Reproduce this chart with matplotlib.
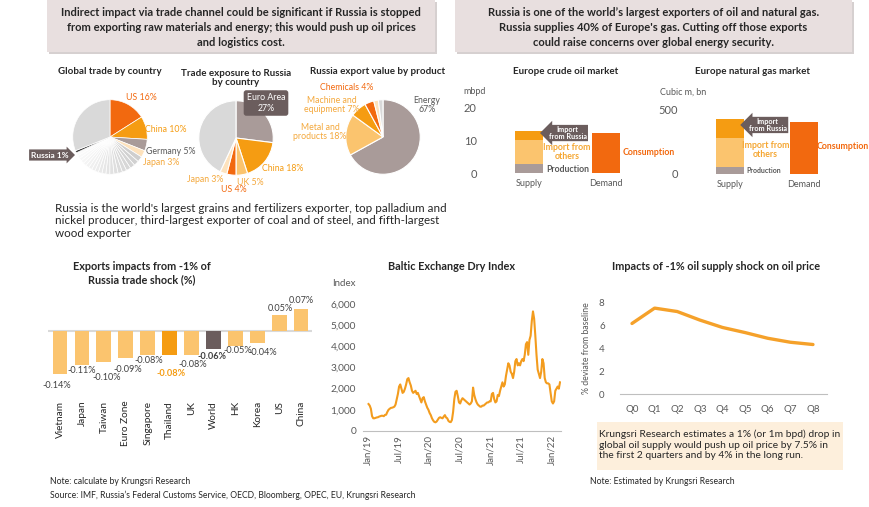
import numpy as np
import pandas as pd
import matplotlib
matplotlib.use('Agg')
import matplotlib.pyplot as plt
import matplotlib.dates as mdates
from matplotlib import font_manager
from matplotlib.patches import Rectangle

##
##  D a t a
##
# global trade shares (%)
global_main = ['US', 'China', 'Germany', 'Japan']
global_main_share = [16, 10, 5, 3]
global_small_share = [2.4, 2.2, 2.1, 2.0, 1.9, 1.9, 1.8, 1.8, 1.7, 1.7,
                      1.6, 1.6, 1.5, 1.5, 1.5, 1.4, 1.4, 1.3, 1.3, 1.4]
global_russia_share = 1
global_rest_share = 31

# trade exposure to Russia (%)
exposure_names = ['Euro Area', 'China', 'UK', 'US', 'Japan', 'Other']
exposure_share = [27, 18, 5, 4, 3, 43]

# Russia export value by product (%)
product_names = ['Energy', 'Metal and products', 'Machine and equipment',
                 'Chemicals', 'Food', 'Other']
product_share = [67, 18, 7, 4, 2, 2]

# Europe crude oil market (mbpd)
oil_production, oil_import_others, oil_import_russia = 2.8, 7.4, 2.7
oil_consumption = 12.3
# Europe natural gas market (cubic m, bn)
gas_production, gas_import_others, gas_import_russia = 55, 225, 150
gas_consumption = 410

# exports impacts from -1% of Russia trade shock (%)
shock_countries = ['Vietnam', 'Japan', 'Taiwan', 'Euro Zone', 'Singapore',
                   'Thailand', 'UK', 'World', 'HK', 'Korea', 'US', 'China']
shock_values = [-0.14, -0.11, -0.10, -0.09, -0.08, -0.08, -0.08, -0.06,
                -0.05, -0.04, 0.05, 0.07]

# Baltic Exchange Dry Index, weekly from 4 Jan 2019
bdi_2019 = [1274, 1200, 1050, 700, 600, 600, 620, 640, 650, 680, 700, 720,
            720, 700, 760, 770, 900, 1000, 1050, 1090, 1100, 1120, 1150, 1250,
            1500, 1750, 2100, 2200, 2000, 1800, 1850, 2000, 2200, 2450, 2500,
            2300, 2150, 1900, 1800, 1850, 1900, 1750, 1800, 1650, 1500, 1350,
            1550, 1600, 1400, 1250, 1100, 1000]
bdi_2020 = [850, 750, 600, 500, 430, 410, 450, 540, 620, 650, 620, 600, 680,
            750, 640, 600, 480, 430, 420, 520, 900, 1500, 1850, 1900, 1650,
            1350, 1300, 1450, 1550, 1500, 1450, 1400, 1350, 1300, 1250, 1300,
            1400, 2050, 1700, 1500, 1350, 1250, 1200, 1150, 1150, 1200, 1200,
            1250, 1300, 1350, 1350, 1400]
bdi_2021 = [1400, 1750, 1800, 1500, 1350, 1400, 1700, 1650, 1900, 2100, 2300,
            2100, 2200, 2600, 2900, 3200, 3100, 2800, 2700, 2500, 2800, 3300,
            3400, 3100, 3200, 3100, 3300, 3400, 3300, 3600, 4100, 4200, 3600,
            4300, 4500, 5200, 5650, 5300, 4500, 3600, 2900, 2700, 2500, 2800,
            3400, 3200, 2500, 2300, 2250, 2250, 2200, 1800, 1400]
bdi_2022 = [1300, 1400, 1900, 2000, 2100, 2000, 2300]
bdi_ticks = ['2019-01-01', '2019-07-01', '2020-01-01', '2020-07-01',
             '2021-01-01', '2021-07-01', '2022-01-01']

# impacts of -1% oil supply shock on oil price (% deviation from baseline)
quarters = ['Q0', 'Q1', 'Q2', 'Q3', 'Q4', 'Q5', 'Q6', 'Q7', 'Q8']
oil_price_dev = [6.2, 7.55, 7.25, 6.5, 5.85, 5.4, 4.9, 4.55, 4.35]

##
##  S t y l e
##
avail = {f.name for f in font_manager.fontManager.ttflist}
body_font = [f for f in ['Lato', 'Open Sans', 'DejaVu Sans'] if f in avail]
head_font = [f for f in ['Liberation Sans Narrow', 'Lato', 'DejaVu Sans'] if f in avail]
plt.rcParams['font.family'] = body_font + ['DejaVu Sans']

W, H = 870, 507
DARK = '#262626'
GREY = '#595959'
BOXGREY = '#6b5d5d'
MAUVE = '#a99b99'
LORANGE = '#fbc46e'
ORANGE = '#f59c12'
DORANGE = '#f2690f'
LGREY = '#d9d9d9'

fig = plt.figure(figsize=(W / 100, H / 100), dpi=100)


def rect(x0, y0, x1, y1):
    return [x0 / W, 1 - y1 / H, (x1 - x0) / W, (y1 - y0) / H]


def label(x, y, s, **kw):
    kw.setdefault('ha', 'center')
    kw.setdefault('va', 'center')
    return fig.text(x / W, 1 - y / H, s, **kw)


def clean(ax):
    for s in ax.spines.values():
        s.set_visible(False)


##
##  H e a d e r s
##
for x0, x1, txt in [
        (47, 435, 'Indirect impact via trade channel could be significant if Russia is stopped\n'
                  'from exporting raw materials and energy; this would push up oil prices\n'
                  'and logistics cost.'),
        (455, 852, 'Russia is one of the world\u2019s largest exporters of oil and natural gas.\n'
                   'Russia supplies 40% of Europe\'s gas. Cutting off those exports\n'
                   'could raise concerns over global energy security.')]:
    fig.patches.append(Rectangle((x0 / W + 0.002, 1 - 54 / H), (x1 - x0) / W, 52 / H,
                                 transform=fig.transFigure, fc='#d6d0d0', ec='none'))
    fig.patches.append(Rectangle((x0 / W, 1 - 52 / H), (x1 - x0) / W, 52 / H,
                                 transform=fig.transFigure, fc='#e8dfdf', ec='none'))
    label((x0 + x1) / 2, 27.5, txt, family=head_font, fontsize=8, weight='bold',
          color=DARK, linespacing=1.5)

##
##  P i e s
##
label(110, 71, 'Global trade by country', weight='bold', fontsize=7, color=DARK)
label(236, 78, 'Trade exposure to Russia\nby country', weight='bold', fontsize=7,
      color=DARK, linespacing=1.1)
label(378, 71, 'Russia export value by product', weight='bold', fontsize=7, color=DARK)

r = 38
ax = fig.add_axes(rect(110 - r, 137 - r, 110 + r, 137 + r))
small_cols = [plt.cm.Greys(v) for v in np.linspace(0.3, 0.04, len(global_small_share))]
vals = global_main_share + global_small_share + [global_russia_share, global_rest_share]
cols = [DORANGE, ORANGE, MAUVE, '#fde2bd'] + small_cols + ['#3a3a3a', LGREY]
ax.pie(vals, colors=cols, startangle=90, counterclock=False,
       wedgeprops=dict(edgecolor='white', linewidth=0.5))
ax.set_xlim(-1.02, 1.02); ax.set_ylim(-1.02, 1.02)
label(141, 98, 'US 16%', color=DORANGE, fontsize=6.3)
label(166, 129, 'China 10%', color=ORANGE, fontsize=6.3)
label(171, 151, 'Germany 5%', color=GREY, fontsize=6.3)
label(161, 162, 'Japan 3%', color='#f4a83c', fontsize=6.3)
label(50, 155, 'Russia 1%', color='white', fontsize=6, weight='bold',
      bbox=dict(boxstyle='rarrow,pad=0.25', fc=BOXGREY, ec='none'))

ax = fig.add_axes(rect(236 - r, 138 - r, 236 + r, 138 + r))
ax.pie(exposure_share, colors=[MAUVE, ORANGE, LORANGE, DORANGE, '#fde2bd', LGREY],
       startangle=90, counterclock=False,
       wedgeprops=dict(edgecolor='white', linewidth=0.8))
ax.set_xlim(-1.02, 1.02); ax.set_ylim(-1.02, 1.02)
label(266, 103, 'Euro Area\n27%', color='white', fontsize=6.3, linespacing=1.2,
      bbox=dict(boxstyle='round,pad=0.35,rounding_size=0.3', fc=BOXGREY, ec='none'))
label(283, 169, 'China 18%', color=ORANGE, fontsize=6.3)
label(250, 182, 'UK 5%', color='#f4a83c', fontsize=6.3)
label(234, 190, 'US 4%', color=DORANGE, fontsize=6.3)
label(205, 179, 'Japan 3%', color='#f4a83c', fontsize=6.3)

ax = fig.add_axes(rect(383 - r, 137 - r, 383 + r, 137 + r))
ax.pie(product_share, colors=[MAUVE, LORANGE, ORANGE, DORANGE, '#fde2bd', LGREY],
       startangle=90, counterclock=False,
       wedgeprops=dict(edgecolor='white', linewidth=0.8))
ax.set_xlim(-1.02, 1.02); ax.set_ylim(-1.02, 1.02)
label(347, 87, 'Chemicals 4%', color=DORANGE, fontsize=6.3)
label(332, 105, 'Machine and\nequipment 7%', color='#f4a83c', fontsize=6.3, linespacing=1.1)
label(320, 132, 'Metal and\nproducts 18%', color='#f4a83c', fontsize=6.3, linespacing=1.1)
label(427, 105, 'Energy\n67%', color=GREY, fontsize=6.3, linespacing=1.1)

label(55, 221, "Russia is the world's largest grains and fertilizers exporter, top palladium and\n"
      "nickel producer, third-largest exporter of coal and of steel, and fifth-largest\n"
      "wood exporter", ha='left', fontsize=8.4, color=DARK, linespacing=1.15)

##
##  E u r o p e   e n e r g y   m a r k e t s
##
label(566, 71, 'Europe crude oil market', weight='bold', fontsize=7, color=DARK)
label(753, 71, 'Europe natural gas market', weight='bold', fontsize=7, color=DARK)
label(475, 92, 'mbpd', fontsize=6.5, color=GREY)
label(683, 92, 'Cubic m, bn', fontsize=6.5, color=GREY)


def market(ax, prod, others, russia, cons):
    w = 0.37
    ax.bar(0, prod, w, color=MAUVE)
    ax.bar(0, others, w, bottom=prod, color=LORANGE)
    ax.bar(0, russia, w, bottom=prod + others, color=ORANGE)
    ax.bar(1, cons, w, color=DORANGE)
    ax.set_xticks([0, 1], ['Supply', 'Demand'])
    ax.tick_params(length=0, labelsize=6.5, colors=GREY, pad=4)
    ax.tick_params(axis='y', labelsize=8, pad=6)
    clean(ax)


ax = fig.add_axes(rect(485, 108, 640, 173))
market(ax, oil_production, oil_import_others, oil_import_russia, oil_consumption)
ax.set_ylim(0, 20); ax.set_xlim(-0.571, 1.44)
ax.set_yticks([0, 10, 20])
ax.text(0.5, 12.3, 'Import\nfrom Russia', ha='center', va='center', color='white',
        fontsize=5.2, weight='bold', linespacing=0.9,
        bbox=dict(boxstyle='larrow,pad=0.2', fc=BOXGREY, ec='none'))
ax.text(0.49, 6.5, 'Import from\nothers', ha='center', va='center', color='#f5a733',
        fontsize=6.3, weight='bold', linespacing=1.1)
ax.text(0.5, 1.0, 'Production', ha='center', va='center', color=GREY,
        fontsize=6.3, weight='bold')
ax.text(1.55, 6.2, 'Consumption', ha='center', va='center', color=DORANGE,
        fontsize=6.3, weight='bold', clip_on=False)

ax = fig.add_axes(rect(693, 110, 850, 174))
market(ax, gas_production, gas_import_others, gas_import_russia, gas_consumption)
ax.set_ylim(0, 500); ax.set_xlim(-0.5, 1.62)
ax.set_yticks([0, 500])
ax.tick_params(axis='y', pad=11)
ax.text(0.51, 383, 'Import\nfrom Russia', ha='center', va='center', color='white',
        fontsize=5.2, weight='bold', linespacing=0.9,
        bbox=dict(boxstyle='larrow,pad=0.2', fc=BOXGREY, ec='none'))
ax.text(0.48, 187, 'Import from\nothers', ha='center', va='center', color='#f5a733',
        fontsize=6.3, weight='bold', linespacing=1.1)
ax.text(0.45, 30, 'Production', ha='center', va='center', color=GREY,
        fontsize=5, weight='bold')
ax.text(1.52, 211, 'Consumption', ha='center', va='center', color=DORANGE,
        fontsize=6.3, weight='bold', clip_on=False)

##
##  E x p o r t s   i m p a c t s
##
label(142, 273, 'Exports impacts from -1% of\nRussia trade shock (%)', weight='bold',
      fontsize=7.8, color=DARK, linespacing=1.2)
ax = fig.add_axes(rect(48, 300, 312, 380))
bar_cols = [LORANGE] * len(shock_values)
bar_cols[shock_countries.index('Thailand')] = ORANGE
bar_cols[shock_countries.index('World')] = '#6b5d5d'
x = np.arange(len(shock_values))
ax.bar(x, shock_values, 0.68, color=bar_cols)
ax.axhline(0, color=LGREY, lw=1.5, zorder=0)
ax.set_ylim(-0.16, 0.10); ax.set_xlim(-0.55, 11.5)
ax.set_yticks([])
ax.set_xticks(x, shock_countries, rotation=90, va='top')
ax.tick_params(axis='x', length=0, pad=15, labelsize=7.2, labelcolor=DARK)
clean(ax)
# label offsets from bar end, in pixels (dx right, dy down)
lab_dx = [-3, 0, 3, 2, 1, 1, 1, -1, 2, 6, 1, 0]
lab_dy = [12, 6, 16, 11, 5, 18, 9, 7, 4, 9, -7, -9]
for i, v in enumerate(shock_values):
    kw = dict(color='#404040', weight='normal')
    if shock_countries[i] == 'Thailand':
        kw = dict(color=ORANGE, weight='bold')
    elif shock_countries[i] == 'World':
        kw = dict(color='#404040', weight='bold')
    ax.annotate(f'{v:.2f}%', (i, v), xytext=(lab_dx[i] * 0.72, -lab_dy[i] * 0.72),
                textcoords='offset points', ha='center', va='center',
                fontsize=6.6, **kw)

##
##  B a l t i c   D r y   I n d e x
##
label(452, 266, 'Baltic Exchange Dry Index', weight='bold', fontsize=7.8, color=DARK)
label(344, 284, 'Index', fontsize=7, color=GREY)
bdi = bdi_2019 + bdi_2020 + bdi_2021 + bdi_2022
dates = pd.date_range('2019-01-04', periods=len(bdi), freq='7D')
ax = fig.add_axes(rect(363, 304, 561, 431))
ax.plot(dates, bdi, color='#f39c1e', lw=1.5)
ax.set_ylim(0, 6000)
ax.set_xlim(pd.Timestamp('2018-12-02'), pd.Timestamp('2022-02-24'))
ax.set_yticks(range(0, 6001, 1000), [f'{v:,}' for v in range(0, 6001, 1000)])
ax.set_xticks(pd.to_datetime(bdi_ticks))
ax.xaxis.set_major_formatter(mdates.DateFormatter('%b/%y'))
ax.tick_params(axis='x', rotation=90, length=0, pad=3, labelsize=7, labelcolor=GREY)
ax.tick_params(axis='y', length=0, pad=5, labelsize=7.3, labelcolor=GREY)
clean(ax)
ax.spines['bottom'].set_visible(True)
ax.spines['bottom'].set_color('#bfbfbf')

##
##  O i l   p r i c e   s h o c k
##
label(716, 266, 'Impacts of -1% oil supply shock on oil price', weight='bold',
      fontsize=7.8, color=DARK)
ax = fig.add_axes(rect(620, 303, 827, 394))
ax.plot(range(len(quarters)), oil_price_dev, color='#f5a12a', lw=2.4,
        solid_capstyle='round', solid_joinstyle='round')
ax.set_ylim(0, 8); ax.set_xlim(-0.53, 8.62)
ax.set_yticks([0, 2, 4, 6, 8])
ax.set_xticks(range(len(quarters)), quarters)
ax.tick_params(length=0, labelsize=7, labelcolor=GREY)
ax.tick_params(axis='y', pad=11)
ax.tick_params(axis='x', pad=8)
ax.set_ylabel('% deviate from baseline', fontsize=6.3, color=GREY, labelpad=6)
clean(ax)
ax.spines['bottom'].set_visible(True)
ax.spines['bottom'].set_color('#bfbfbf')

fig.patches.append(Rectangle((597 / W, 1 - 470 / H), 246 / W, 48 / H,
                             transform=fig.transFigure, fc='#fdefdc', ec='none'))
label(599, 445, 'Krungsri Research estimates a 1% (or 1m bpd) drop in\n'
      'global oil supply would push up oil price by 7.5% in\n'
      'the first 2 quarters and by 4% in the long run.', ha='left',
      fontsize=7.4, color=DARK, linespacing=1.2)
label(590, 481, 'Note: Estimated by Krungsri Research', ha='left', fontsize=6.2, color=DARK)

label(50, 481, 'Note: calculate by Krungsri Research', ha='left', fontsize=6.2, color=DARK)
label(50, 495, 'Source: IMF, Russia\u2019s Federal Customs Service, OECD, Bloomberg, OPEC, '
      'EU, Krungsri Research', ha='left', fontsize=6.2, color=DARK)

fig.savefig('out.png', dpi=100, facecolor='white')
plt.close(fig)
